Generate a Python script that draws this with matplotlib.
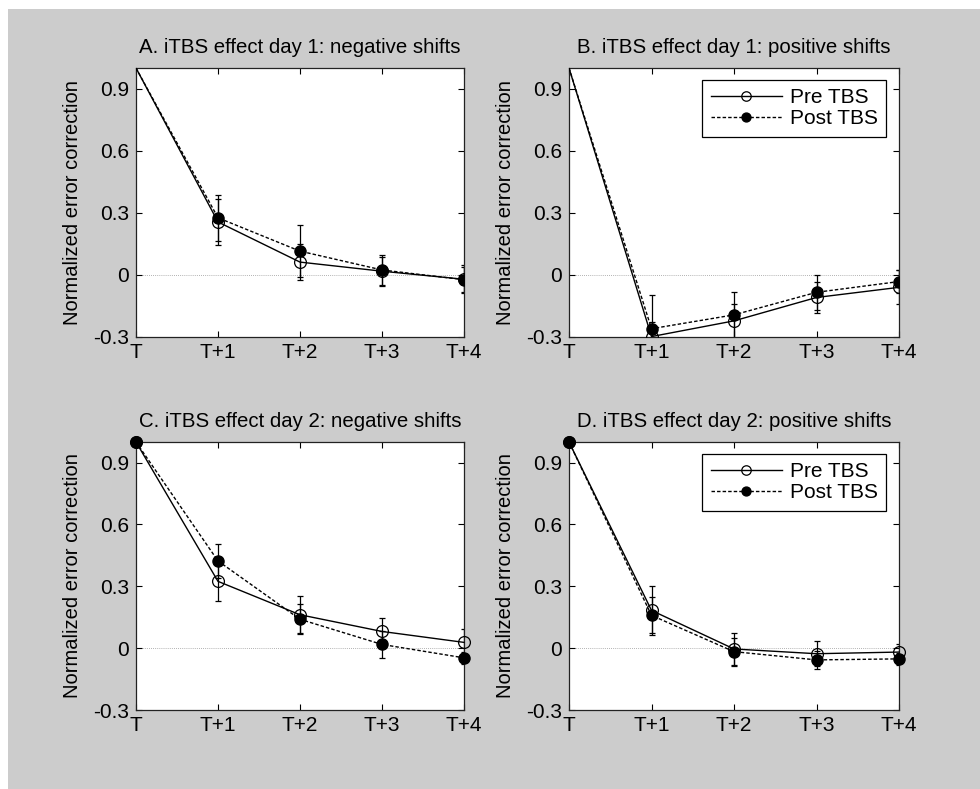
import matplotlib
matplotlib.use("Agg")
import matplotlib.pyplot as plt
from matplotlib.patches import Rectangle

plt.rcParams['font.family'] = ['Liberation Sans', 'DejaVu Sans']

# ---- data ----
x_labels = ["T", "T+1", "T+2", "T+3", "T+4"]
y_ticks = [-0.3, 0, 0.3, 0.6, 0.9]
y_tick_labels = ["-0.3", "0", "0.3", "0.6", "0.9"]

titles = ["A. iTBS effect day 1: negative shifts",
          "B. iTBS effect day 1: positive shifts",
          "C. iTBS effect day 2: negative shifts",
          "D. iTBS effect day 2: positive shifts"]

pre_A = [1.0, 0.256, 0.062, 0.018, -0.021]
pre_A_err = [0.0, 0.110, 0.088, 0.070, 0.067]
post_A = [1.0, 0.276, 0.115, 0.024, -0.023]
post_A_err = [0.0, 0.112, 0.125, 0.073, 0.060]

pre_B = [1.0, -0.298, -0.222, -0.109, -0.060]
pre_B_err = [0.0, 0.070, 0.081, 0.075, 0.082]
post_B = [1.0, -0.260, -0.193, -0.084, -0.032]
post_B_err = [0.0, 0.162, 0.112, 0.085, 0.055]

pre_C = [1.0, 0.324, 0.162, 0.081, 0.028]
pre_C_err = [0.0, 0.097, 0.089, 0.065, 0.063]
post_C = [1.0, 0.423, 0.140, 0.018, -0.047]
post_C_err = [0.0, 0.081, 0.073, 0.065, 0.030]

pre_D = [1.0, 0.183, -0.004, -0.027, -0.019]
pre_D_err = [0.0, 0.118, 0.079, 0.060, 0.037]
post_D = [1.0, 0.159, -0.017, -0.057, -0.052]
post_D_err = [0.0, 0.087, 0.068, 0.044, 0.030]

panels = [(pre_A, pre_A_err, post_A, post_A_err),
          (pre_B, pre_B_err, post_B, post_B_err),
          (pre_C, pre_C_err, post_C, post_C_err),
          (pre_D, pre_D_err, post_D, post_D_err)]
show_first_marker = [False, False, True, True]
show_legend = [False, True, False, True]

W, H = 980, 789
fig = plt.figure(figsize=(W / 100, H / 100), dpi=100, facecolor='white')
fig.patches.append(Rectangle((8 / W, 0), 1 - 8 / W, 1 - 9 / H, transform=fig.transFigure,
                             facecolor='#cccccc', edgecolor='none', zorder=-10))

# axes rectangles (pixels): left, top, right, bottom
rects = [(136, 68, 464, 337), (569, 68, 899, 337),
         (136, 442, 464, 710), (569, 442, 899, 710)]

xs = list(range(len(x_labels)))
for i, (l, t, r, b) in enumerate(rects):
    ax = fig.add_axes([l / W, 1 - b / H, (r - l) / W, (b - t) / H])
    ax.set_facecolor('white')
    pre, pre_err, post, post_err = panels[i]
    ax.axhline(0, color='#999999', lw=0.6, ls=(0, (1, 1.5)), zorder=1)
    mev = None if show_first_marker[i] else [1, 2, 3, 4]
    clip = not show_first_marker[i]
    ax.errorbar(xs[1:], pre[1:], yerr=pre_err[1:], fmt='none', ecolor='black',
                elinewidth=0.9, capsize=2.5, capthick=0.9, zorder=2)
    ax.errorbar(xs[1:], post[1:], yerr=post_err[1:], fmt='none', ecolor='black',
                elinewidth=0.9, capsize=2.5, capthick=0.9, zorder=2)
    ax.plot(xs, pre, color='black', lw=1.0, ls='-', marker='o', ms=8.5,
            mfc='none', mec='black', mew=0.9, markevery=mev, clip_on=clip,
            zorder=3, label='Pre TBS')
    ax.plot(xs, post, color='black', lw=1.0, ls=(0, (2.5, 1.5)), marker='o', ms=8,
            mfc='black', mec='black', markevery=mev, clip_on=clip,
            zorder=4, label='Post TBS')
    ax.set_xlim(0, 4)
    ax.set_ylim(-0.3, 1.0)
    ax.set_xticks(xs)
    ax.set_xticklabels(x_labels)
    ax.set_yticks(y_ticks)
    ax.set_yticklabels(y_tick_labels)
    ax.tick_params(direction='in', top=True, right=True, length=4, width=0.8,
                   labelsize=15, colors='black')
    ax.tick_params(axis='x', pad=4)
    ax.tick_params(axis='y', pad=5)
    for s in ax.spines.values():
        s.set_linewidth(0.9)
        s.set_color('#222222')
    ax.set_title(titles[i], fontsize=14.7, pad=11)
    ax.set_ylabel("Normalized error correction", fontsize=14.5)
    ax.yaxis.set_label_coords(-0.165, 0.5)
    if show_legend[i]:
        leg = ax.legend(loc='upper right', bbox_to_anchor=(1 - 13 / (r - l), 1 - 12 / (b - t)),
                        borderaxespad=0, fontsize=15, handlelength=3.45, numpoints=1,
                        fancybox=False, framealpha=1, edgecolor='black',
                        borderpad=0.4, labelspacing=0.1, handletextpad=0.35,
                        markerscale=0.8)
        leg.get_frame().set_linewidth(0.9)

fig.savefig("out.png", dpi=100, facecolor=fig.get_facecolor())
